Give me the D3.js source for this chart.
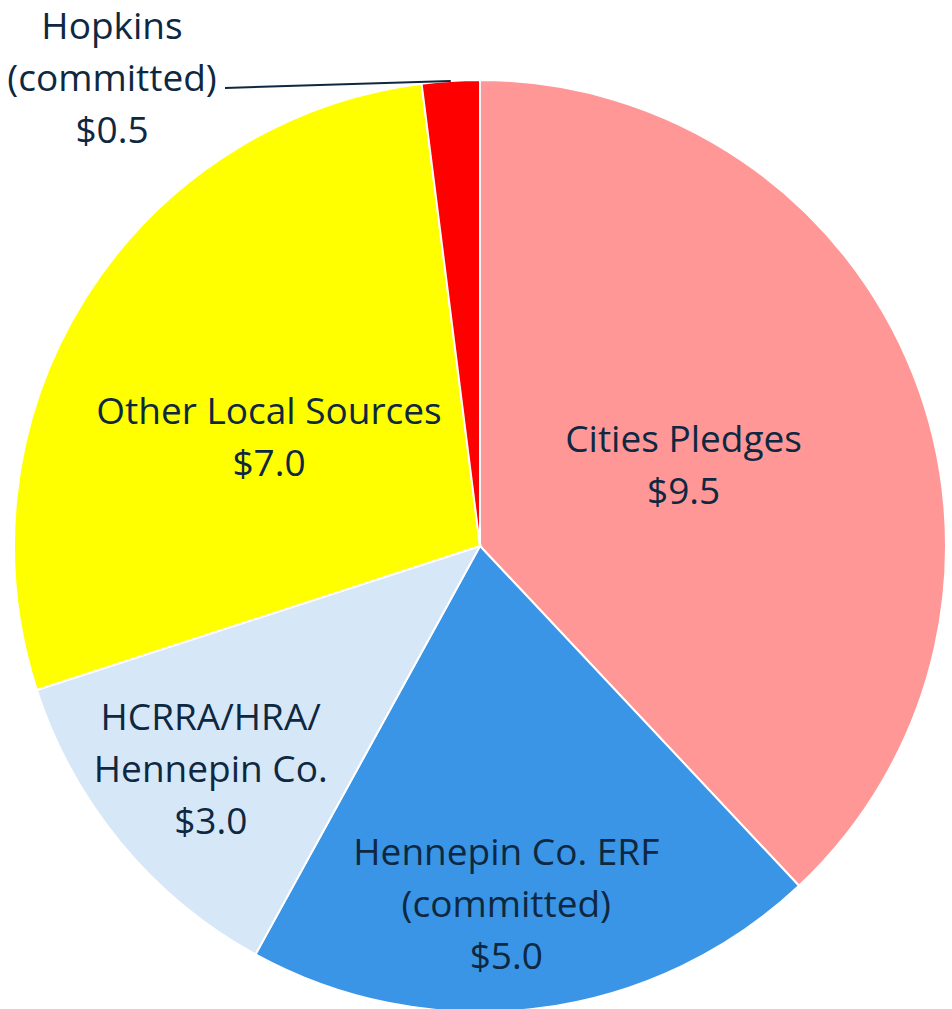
<!DOCTYPE html>
<html>
<head>
<meta charset="utf-8">
<script src="https://cdn.jsdelivr.net/npm/d3@7"></script>
<style>
  body { margin: 0; background: #fff; }
  svg { display: block; }
</style>
</head>
<body>
<div id="chart"></div>
<script>
// ---------------- data
const sources = ["Cities Pledges", "Hennepin Co. ERF", "HCRRA/HRA/Hennepin Co.", "Other Local Sources", "Hopkins"]
const amounts = [9.5, 5.0, 3.0, 7.0, 0.5]
const labelLines = [
    ["Cities Pledges", "$9.5"],
    ["Hennepin Co. ERF", "(committed)", "$5.0"],
    ["HCRRA/HRA/", "Hennepin Co.", "$3.0"],
    ["Other Local Sources", "$7.0"],
    ["Hopkins", "(committed)", "$0.5"]
]
const sliceColors = ["#ff9797", "#3a95e6", "#d6e7f8", "#ffff00", "#ff0000"]

// ---------------- dimensions
const dims = { width: 952, height: 1009, cx: 480, cy: 546, radius: 466 }

// label radius (fraction of radius) and angle nudges per slice
const labelPlacement = [
    { r: 0.47, da: 0 },
    { r: 0.77, da: 3 },
    { r: 0.75, da: 0 },
    { r: 0.51, da: -5 },
    null
]

const svg = d3.select("#chart")
    .append("svg")
    .attr("width", dims.width)
    .attr("height", dims.height)

const g = svg.append("g")
    .attr("transform", `translate(${dims.cx},${dims.cy})`)

const pie = d3.pie()
    .sort(null)
    .value((d, i) => amounts[i])

const arcs = pie(sources)

const arc = d3.arc()
    .innerRadius(0)
    .outerRadius(dims.radius)

g.selectAll("path")
    .data(arcs)
    .join("path")
    .attr("d", arc)
    .attr("fill", (d, i) => sliceColors[i])
    .attr("stroke", "#fff")
    .attr("stroke-width", 2)

const lineH = 52
const fontSize = 37
const textColor = "#0e2841"

arcs.forEach((d, i) => {
    const mid = (d.startAngle + d.endAngle) / 2
    let x, y
    if (labelPlacement[i]) {
        const a = mid + labelPlacement[i].da * Math.PI / 180
        const r = dims.radius * labelPlacement[i].r
        x = r * Math.sin(a)
        y = -r * Math.cos(a)
    } else {
        // outside label with leader line
        const ex = dims.radius * Math.sin(mid)
        const ey = -dims.radius * Math.cos(mid)
        g.append("line")
            .attr("x1", ex).attr("y1", ey)
            .attr("x2", 225 - dims.cx).attr("y2", 88 - dims.cy)
            .attr("stroke", textColor)
            .attr("stroke-width", 2)
        x = 112 - dims.cx
        y = 78 - dims.cy
    }
    const lines = labelLines[i]
    const t = g.append("text")
        .attr("text-anchor", "middle")
        .attr("font-family", "'Open Sans', Lato, sans-serif")
        .attr("font-size", fontSize)
        .attr("fill", textColor)
        .style("font-variant-ligatures", "none")
    lines.forEach((s, k) => {
        t.append("tspan")
            .attr("x", x)
            .attr("y", y + (k - (lines.length - 1) / 2) * lineH)
            .attr("dy", "0.35em")
            .text(s)
    })
})
</script>
</body>
</html>
